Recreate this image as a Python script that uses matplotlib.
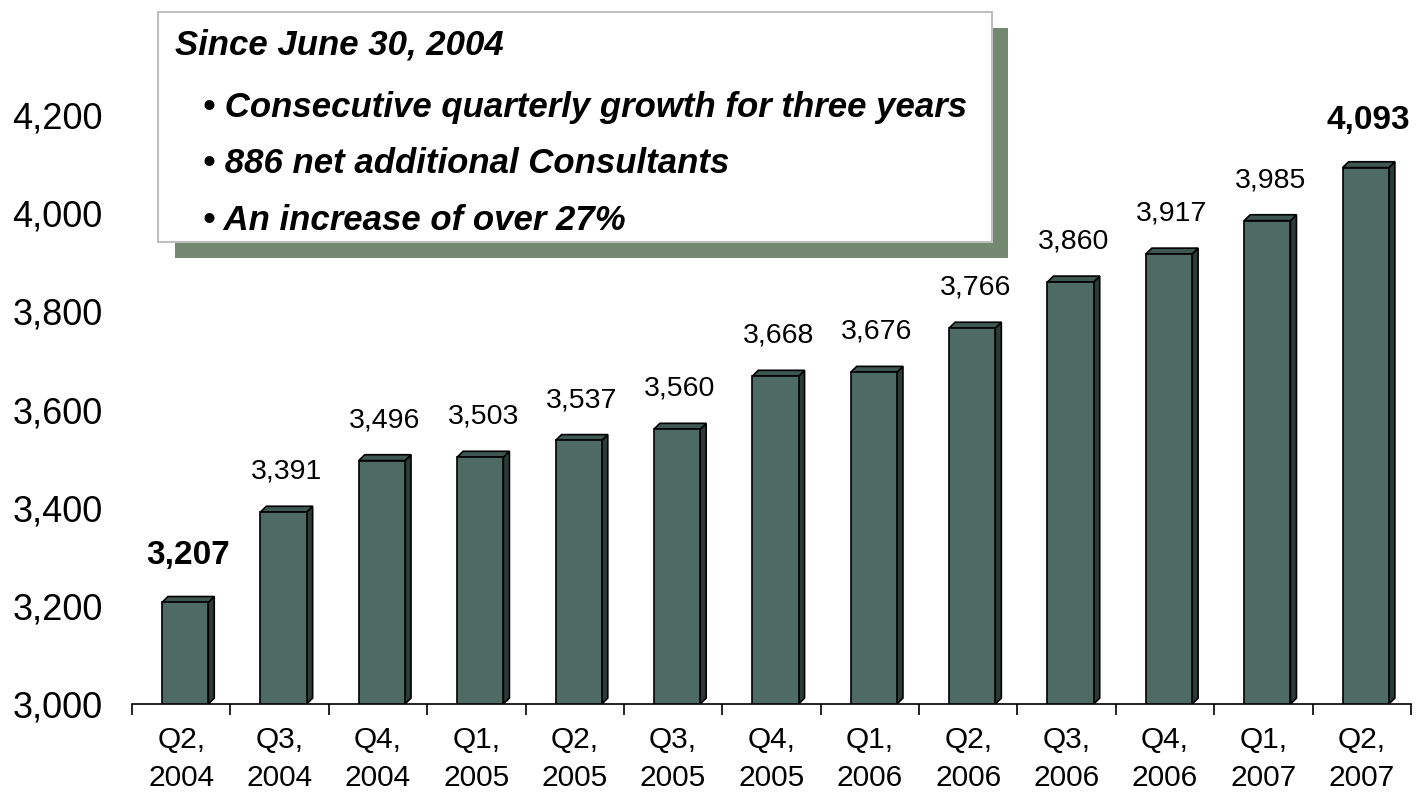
import matplotlib
matplotlib.use('Agg')
import matplotlib.pyplot as plt
from matplotlib.patches import Polygon, Rectangle
import numpy as np

plt.rcParams['font.family'] = 'Liberation Sans'

quarters = ['Q2,\n2004', 'Q3,\n2004', 'Q4,\n2004', 'Q1,\n2005', 'Q2,\n2005', 'Q3,\n2005',
            'Q4,\n2005', 'Q1,\n2006', 'Q2,\n2006', 'Q3,\n2006', 'Q4,\n2006', 'Q1,\n2007',
            'Q2,\n2007']
consultants = [3207, 3391, 3496, 3503, 3537, 3560, 3668, 3676, 3766, 3860, 3917, 3985, 4093]
y_ticks = [3000, 3200, 3400, 3600, 3800, 4000, 4200]
note_title = 'Since June 30, 2004'
note_points = ['Consecutive quarterly growth for three years',
               '886 net additional Consultants',
               'An increase of over 27%']

front_color = '#4d6a63'
side_color = '#2b3c37'
top_color = '#3f5751'
shadow_color = '#738771'

W, H = 1418, 795
fig = plt.figure(figsize=(W / 100, H / 100), dpi=100)
ax = fig.add_axes([132 / W, 91 / H, 1279 / W, 687 / H])

x = np.arange(len(consultants))
bar_width = 0.47
shift = 0.04
bars = ax.bar(x + shift, np.array(consultants) - 3000, bottom=3000, width=bar_width,
              color=front_color, edgecolor='black', linewidth=1.2, zorder=3)

# fake 3D depth: side and top faces behind each bar
dx = 0.061
dy = 12
for b in bars:
    xl = b.get_x()
    xr = xl + b.get_width()
    y0 = b.get_y()
    y1 = y0 + b.get_height()
    side = Polygon([(xr, y0), (xr + dx, y0 + dy), (xr + dx, y1 + dy), (xr, y1)],
                   closed=True, facecolor=side_color, edgecolor='black', linewidth=1.2, zorder=2)
    top = Polygon([(xl, y1), (xl + dx, y1 + dy), (xr + dx, y1 + dy), (xr, y1)],
                  closed=True, facecolor=top_color, edgecolor='black', linewidth=1.2, zorder=2)
    ax.add_patch(side)
    ax.add_patch(top)

last = len(consultants) - 1
for i, v in enumerate(consultants):
    if i == 0 or i == last:
        ax.annotate(f'{v:,}', (i + shift + dx / 2, v), xytext=(0, 28), textcoords='offset points',
                    ha='center', va='baseline', fontsize=24, fontweight='bold')
    else:
        ax.annotate(f'{v:,}', (i + shift + dx / 2, v), xytext=(0, 24), textcoords='offset points',
                    ha='center', va='baseline', fontsize=20.5)

ax.set_xlim(-0.5, len(consultants) - 0.5)
ax.set_ylim(3000, 4400)

for s in ['left', 'top', 'right']:
    ax.spines[s].set_visible(False)
ax.spines['bottom'].set_linewidth(1.2)

ax.set_xticks(np.arange(len(consultants) + 1) - 0.5)
ax.set_xticklabels([])
ax.tick_params(axis='x', which='major', length=8, width=1.2, direction='out')
ax.set_xticks(x, minor=True)
ax.set_xticklabels(quarters, minor=True, fontsize=21.5, linespacing=1.45)
ax.tick_params(axis='x', which='minor', length=0, pad=16)

ax.set_yticks(y_ticks)
ax.set_yticklabels([f'{t:,}' for t in y_ticks], fontsize=26)
ax.tick_params(axis='y', length=0, pad=21)

# callout box with drop shadow
def px_rect(x0, y0, x1, y1, **kw):
    return Rectangle((x0 / W, 1 - y1 / H), (x1 - x0) / W, (y1 - y0) / H,
                     transform=fig.transFigure, **kw)

fig.add_artist(px_rect(175, 28, 1008, 258, facecolor=shadow_color, edgecolor='none', zorder=5))
fig.add_artist(px_rect(158, 12, 992, 242, facecolor='white', edgecolor='#bfbfbf',
                       linewidth=1.5, zorder=6))

fig.text(175 / W, 1 - 45 / H, note_title, fontsize=25, fontweight='bold', style='italic',
         va='center', ha='left', zorder=7)
for k, line in enumerate(note_points):
    fig.text(203 / W, 1 - (107 + 56.5 * k) / H, '\u2022 ' + line, fontsize=25,
             fontweight='bold', style='italic', va='center', ha='left', zorder=7)

fig.savefig('out.png', dpi=100)
